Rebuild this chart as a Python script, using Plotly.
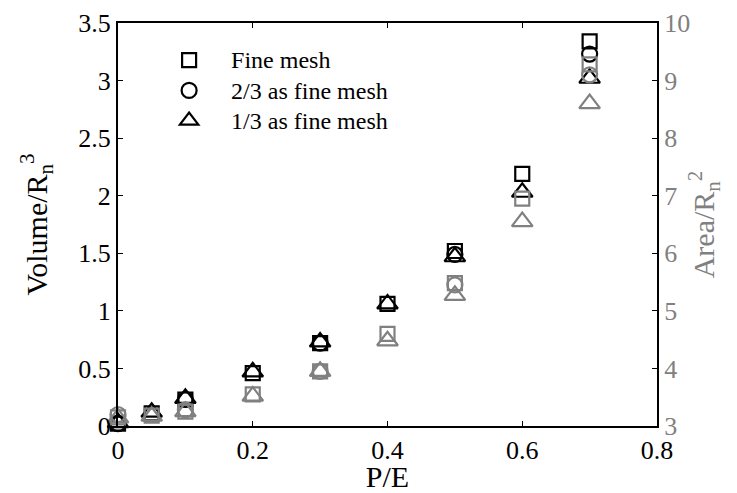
import plotly.graph_objects as go

# P/E values
x_all = [0, 0.05, 0.1, 0.2, 0.3, 0.4, 0.5, 0.6, 0.7]
x_mid = [0, 0.1, 0.3, 0.5, 0.7]

# Volume / Rn^3 (left axis)
vol_fine = [0.02, 0.11, 0.23, 0.46, 0.72, 1.06, 1.52, 2.19, 3.34]
vol_mid = [0.02, 0.23, 0.72, 1.49, 3.23]
vol_coarse = [0.03, 0.12, 0.24, 0.47, 0.73, 1.06, 1.47, 2.03, 3.02]

# Area / Rn^2 (right axis)
area_fine = [3.15, 3.18, 3.25, 3.55, 3.95, 4.60, 5.48, 6.95, 9.28]
area_mid = [3.20, 3.28, 3.95, 5.45, 9.10]
area_coarse = [3.14, 3.17, 3.25, 3.52, 3.95, 4.48, 5.27, 6.55, 8.60]

labels = ["Fine mesh", "2/3 as fine mesh", "1/3 as fine mesh"]

BLACK = "#000000"
GRAY = "#808080"
FONT = "Liberation Serif"

fig = go.Figure()

def add(x, y, sym, size, color, name, axis, show):
    fig.add_trace(go.Scatter(
        x=x, y=y, mode="markers", name=name, yaxis=axis, showlegend=show,
        cliponaxis=False,
        marker=dict(symbol=sym, size=size, color="rgba(255,255,255,0)",
                    line=dict(color=color, width=2.2)),
    ))

def big(s):
    return "<span style='font-size:24px'>" + s + "</span>"

# gray (area) first, black (volume) on top
add(x_all, area_fine, "square", 14, GRAY, labels[0], "y2", False)
add(x_mid, area_mid, "circle", 15, GRAY, labels[1], "y2", False)
add(x_all, area_coarse, "triangle-up", 18, GRAY, labels[2], "y2", False)
add(x_all, vol_fine, "square", 14, BLACK, big(labels[0]), "y", True)
add(x_mid, vol_mid, "circle", 15, BLACK, big(labels[1]), "y", True)
add(x_all, vol_coarse, "triangle-up", 18, BLACK, big(labels[2]), "y", True)

fig.update_layout(
    width=737, height=493,
    margin=dict(l=118, r=80, t=23, b=67, autoexpand=False),
    paper_bgcolor="white", plot_bgcolor="white",
    font=dict(family=FONT, size=25, color="black"),
    showlegend=True,
    legend=dict(x=0.054, y=0.958, xanchor="left", yanchor="top",
                bgcolor="rgba(0,0,0,0)", borderwidth=0,
                font=dict(family=FONT, size=21), itemwidth=74,
                tracegroupgap=0),
    xaxis=dict(range=[0, 0.8], tickvals=[0, 0.2, 0.4, 0.6, 0.8],
               ticktext=["0", "0.2", "0.4", "0.6", "0.8"],
               ticks="inside", ticklen=5, tickcolor="black",
               showline=True, linecolor="black", linewidth=2, mirror="ticks",
               showgrid=False, zeroline=False, tickfont=dict(size=26),
               automargin=False,
               title=dict(text="P/E", font=dict(size=30), standoff=6)),
    yaxis=dict(range=[0, 3.5], tickvals=[0, 0.5, 1, 1.5, 2, 2.5, 3, 3.5],
               ticktext=["0", "0.5", "1", "1.5", "2", "2.5", "3", "3.5"],
               ticks="inside", ticklen=5, tickcolor="black",
               showline=True, linecolor="black", linewidth=2,
               showgrid=False, zeroline=False, tickfont=dict(size=26),
               automargin=False,
               title=dict(text="Volume/R<sub>n</sub><sup>3</sup>", font=dict(size=30), standoff=22)),
    yaxis2=dict(range=[3, 10], tickvals=[3, 4, 5, 6, 7, 8, 9, 10],
                overlaying="y", side="right",
                ticks="inside", ticklen=5, tickcolor="black",
                showline=True, linecolor="black", linewidth=2,
                tickfont=dict(color=GRAY, size=26),
                showgrid=False, zeroline=False, automargin=False,
                title=dict(text="Area/R<sub>n</sub><sup>2</sup>", font=dict(size=30, color=GRAY), standoff=4)),
)

fig.write_html("out.html", config={"displayModeBar": False},
               post_script="document.body.style.margin='0px';")
